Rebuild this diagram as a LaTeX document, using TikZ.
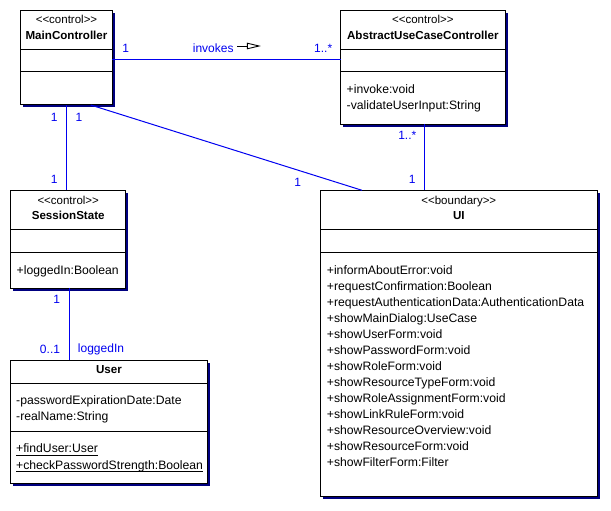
\documentclass[tikz,border=0pt]{standalone}
\usepackage{fontspec}
\setmainfont{Liberation Sans}
\usetikzlibrary{shadows,calc}
\definecolor{lnblue}{RGB}{0,0,240}
\definecolor{shadownavy}{RGB}{0,0,128}
\newcommand{\stt}[1]{{<}{<}#1{>}{>}}
\tikzset{
  classbox/.style={draw=black, line width=1pt, fill=white, inner sep=0pt, outer sep=0pt, anchor=north west,
    drop shadow={shadow xshift=2.5pt, shadow yshift=-2.5pt, fill=shadownavy, opacity=1}},
  stereo/.style={font=\fontsize{11.5}{13}\selectfont, inner sep=0pt, anchor=base},
  cname/.style={font=\fontsize{11.6}{13}\selectfont\bfseries, inner sep=0pt, anchor=base},
  member/.style={font=\fontsize{12.2}{13}\selectfont, inner sep=0pt, anchor=base west},
  mult/.style={font=\fontsize{12}{13}\selectfont, text=lnblue, inner sep=0pt},
  assoc/.style={draw=lnblue, line width=1pt},
  divider/.style={draw=black, line width=1pt}
}
\begin{document}
\begin{tikzpicture}[x=1pt,y=-1pt]
\useasboundingbox (0,0) rectangle (611,511);
% ---------- MainController
\node[classbox, minimum width=91.6pt, minimum height=94.7pt] (mc) at (20.7,10.3) {};
\node[stereo] (mcst) at ($(mc.north)+(0,13.7)$) {\stt{control}};
\node[cname] (mcnm) at ($(mc.north)+(0,28.9)$) {MainController};
\draw[divider] (mc.west |- 0,49.3) -- (mc.east |- 0,49.3);
\draw[divider] (mc.west |- 0,72) -- (mc.east |- 0,72);
% ---------- AbstractUseCaseController
\node[classbox, minimum width=164.3pt, minimum height=113.7pt] (auc) at (340.7,10.3) {};
\node[stereo] (aucst) at ($(auc.north)+(0,13.7)$) {\stt{control}};
\node[cname] (aucnm) at ($(auc.north)+(0,28.9)$) {AbstractUseCaseController};
\draw[divider] (auc.west |- 0,49.3) -- (auc.east |- 0,49.3);
\draw[divider] (auc.west |- 0,72) -- (auc.east |- 0,72);
\node[member] (aucm1) at (346.5,94) {+invoke:void};
\node[member] (aucm2) at (346.5,110) {-validateUserInput:String};
% ---------- SessionState
\node[classbox, minimum width=115pt, minimum height=98pt] (ss) at (10.7,190.3) {};
\node[stereo] (ssst) at ($(ss.north)+(0,13.7)$) {\stt{control}};
\node[cname] (ssnm) at ($(ss.north)+(0,28.9)$) {SessionState};
\draw[divider] (ss.west |- 0,229.3) -- (ss.east |- 0,229.3);
\draw[divider] (ss.west |- 0,252) -- (ss.east |- 0,252);
\node[member] (ssa1) at (16.5,274) {+loggedIn:Boolean};
% ---------- User
\node[classbox, minimum width=196.6pt, minimum height=123pt] (usr) at (10.7,360.3) {};
\node[cname] (usrnm) at ($(usr.north)+(0,13.2)$) {User};
\draw[divider] (usr.west |- 0,383.3) -- (usr.east |- 0,383.3);
\draw[divider] (usr.west |- 0,431.3) -- (usr.east |- 0,431.3);
\node[member] (usra1) at (16,404.7) {-passwordExpirationDate:Date};
\node[member] (usra2) at (16,420.7) {-realName:String};
\node[member] (usrm1) at (16,452.7) {+findUser:User};
\node[member] (usrm2) at (16,469) {+checkPasswordStrength:Boolean};
\draw[black, line width=0.8pt] ([yshift=-2.6pt]usrm1.base west) -- ([yshift=-2.6pt]usrm1.base east);
\draw[black, line width=0.8pt] ([yshift=-2.6pt]usrm2.base west) -- ([yshift=-2.6pt]usrm2.base east);
% ---------- UI
\node[classbox, minimum width=277pt, minimum height=306.4pt] (ui) at (320.3,190.3) {};
\node[stereo] (uist) at ($(ui.north)+(0,13.7)$) {\stt{boundary}};
\node[cname] (uinm) at ($(ui.north)+(0,28.9)$) {UI};
\draw[divider] (ui.west |- 0,229.3) -- (ui.east |- 0,229.3);
\draw[divider] (ui.west |- 0,252) -- (ui.east |- 0,252);
\foreach \t [count=\i from 0] in {+informAboutError:void,
  +requestConfirmation:Boolean,
  +requestAuthenticationData:AuthenticationData,
  +showMainDialog:UseCase,
  +showUserForm:void,
  +showPasswordForm:void,
  +showRoleForm:void,
  +showResourceTypeForm:void,
  +showRoleAssignmentForm:void,
  +showLinkRuleForm:void,
  +showResourceOverview:void,
  +showResourceForm:void,
  +showFilterForm:Filter}{
  \node[member] (uim\i) at (326.7,274+16*\i) {\t};
}
% ---------- Associations
\coordinate (mch) at ([yshift=-1.6pt]mc.east);
\draw[assoc] (mch) -- (mch -| auc.west);
\draw[assoc] (mc.south) -- (mc.south |- ss.north);
\draw[assoc] ([xshift=70pt]mc.south west) -- ([xshift=41.7pt]ui.north west);
\draw[assoc] ([xshift=104pt]ui.north west |- auc.south) -- ([xshift=104pt]ui.north west);
\draw[assoc] ([xshift=58.6pt]usr.north west |- ss.south) -- ([xshift=58.6pt]usr.north west);
% invokes arrow
\coordinate (ia) at (237.3,46);
\coordinate (ib) at (247.3,46);
\coordinate (ic) at (259,46);
\draw[black, line width=0.9pt] (ia) -- (ib);
\draw[black, line width=0.9pt] ($(ib)+(0,-2.8)$) -- (ic) -- ($(ib)+(0,2.8)$) -- cycle;
% ---------- Labels
\node[mult] (l1) at (125.7,48) {1};
\node[mult] (linv) at (213.2,48) {invokes};
\node[mult] (l2) at (323.2,48) {1..*};
\node[mult] (l3) at (54.3,117) {1};
\node[mult] (l4) at (79,117) {1};
\node[mult] (l5) at (54.3,179) {1};
\node[mult] (l6) at (297.7,182.7) {1};
\node[mult] (l7) at (407.3,135.7) {1..*};
\node[mult] (l8) at (412.3,179) {1};
\node[mult] (l9) at (56.7,299.3) {1};
\node[mult] (l10) at (50,349) {0..1};
\node[mult] (l11) at (101,349) {loggedIn};
\end{tikzpicture}
\end{document}
